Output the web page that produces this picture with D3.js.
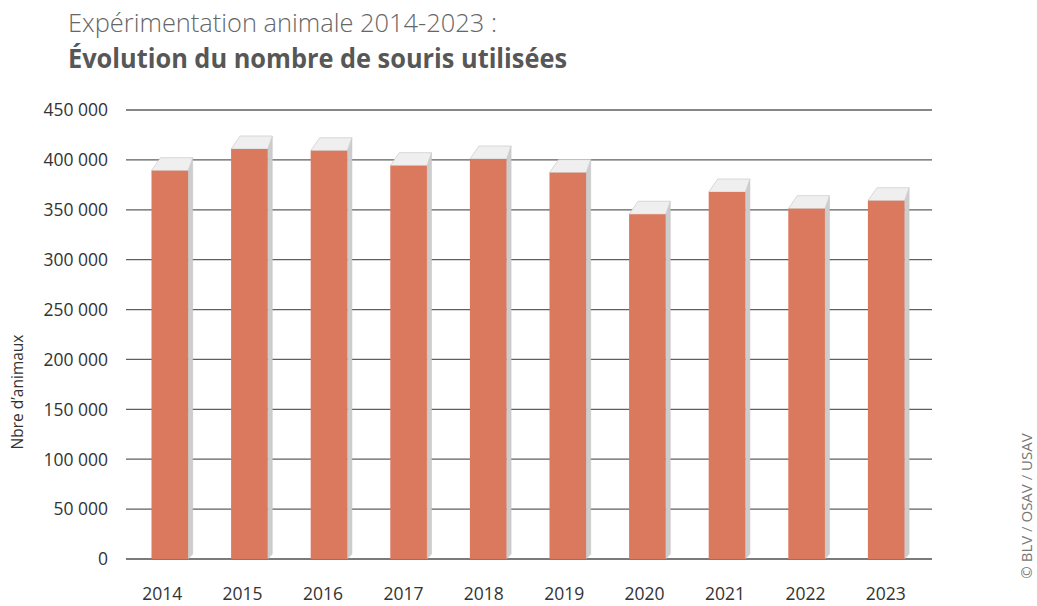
<!DOCTYPE html>
<html><head><meta charset="utf-8">
<script src="https://cdn.jsdelivr.net/npm/d3@7"></script>
<style>
html,body{margin:0;padding:0;background:#fff;}
svg{display:block;font-family:"Open Sans","Noto Sans",sans-serif;}
</style></head>
<body>
<svg id="c" width="1037" height="606"></svg>
<script>
const years = ["2014","2015","2016","2017","2018","2019","2020","2021","2022","2023"];
const mice = [389200, 410900, 409200, 394200, 400900, 387200, 345500, 367800, 351100, 359100];
const yTicks = [0, 50000, 100000, 150000, 200000, 250000, 300000, 350000, 400000, 450000];
const titleLine1 = "Expérimentation animale 2014-2023 :";
const titleLine2 = "Évolution du nombre de souris utilisées";
const yTitle = "Nbre d’animaux";
const credit = "© BLV / OSAV / USAV";

const svg = d3.select("#c");
const y = d3.scaleLinear().domain([0, 450000]).range([559, 110]);
const xLab = d3.scaleBand().domain(years).range([122, 926]).padding(0);
const xBar = d3.scaleBand().domain(years).range([130, 926]).paddingInner(0.54).paddingOuter(0.27);
const gx0 = 126, gx1 = 932;
const fmt = v => d3.format(",")(v).replace(/,/g, " ");

// titles
svg.append("text").attr("x", 68).attr("y", 32).attr("fill", "#666")
  .attr("font-size", 25).attr("font-weight", 300)
  .attr("textLength", 429).attr("lengthAdjust", "spacingAndGlyphs").text(titleLine1);
svg.append("text").attr("x", 68).attr("y", 68).attr("fill", "#575757")
  .attr("font-size", 26).attr("font-weight", 700)
  .attr("textLength", 499).attr("lengthAdjust", "spacingAndGlyphs").text(titleLine2);

// gridlines
svg.append("g").selectAll("line").data(yTicks).join("line")
  .attr("x1", gx0).attr("x2", gx1)
  .attr("y1", d => y(d)).attr("y2", d => y(d))
  .attr("stroke", d => d === 0 ? "#7a7a7a" : "#5f5f5f")
  .attr("stroke-width", d => d === 0 ? 2 : 1.3);

// y tick labels
svg.append("g").selectAll("text").data(yTicks).join("text")
  .attr("x", 108).attr("y", d => y(d)).attr("dy", "0.36em")
  .attr("text-anchor", "end").attr("font-size", 17.5).attr("fill", "#333")
  .text(d => d === 0 ? "0" : fmt(d));

// y title
svg.append("text").attr("transform", "translate(23,392) rotate(-90)")
  .attr("text-anchor", "middle").attr("font-size", 15.5).attr("fill", "#333").text(yTitle);

// credit
svg.append("text").attr("transform", "translate(1032,506) rotate(-90)")
  .attr("text-anchor", "middle").attr("font-size", 15).attr("fill", "#777").text(credit);

// bars (3D look)
const dxR = 4.6, dxL = 9, dyT = 13, dyB = 5;
const bars = svg.append("g").selectAll("g").data(years.map((yr, i) => ({yr, v: mice[i]}))).join("g");
bars.append("polygon").attr("fill", "#cdcdcd").attr("stroke", "#c2c2c2").attr("stroke-width", 0.5)
  .attr("points", d => {
    const x1 = xBar(d.yr) + xBar.bandwidth(), t = y(d.v), b = y(0);
    return [[x1, t], [x1 + dxR, t - dyT], [x1 + dxR, b - dyB], [x1, b]].join(" ");
  });
bars.append("polygon").attr("fill", "#efefef").attr("stroke", "#cfcfcf").attr("stroke-width", 0.8)
  .attr("points", d => {
    const x0 = xBar(d.yr), x1 = x0 + xBar.bandwidth(), t = y(d.v);
    return [[x0, t], [x1, t], [x1 + dxR, t - dyT], [x0 + dxL, t - dyT]].join(" ");
  });
bars.append("rect").attr("fill", "#da795d")
  .attr("x", d => xBar(d.yr)).attr("width", xBar.bandwidth())
  .attr("y", d => y(d.v)).attr("height", d => y(0) - y(d.v));

// x labels
svg.append("g").selectAll("text").data(years).join("text")
  .attr("x", d => xLab(d) + xLab.bandwidth() / 2).attr("y", 600)
  .attr("text-anchor", "middle").attr("font-size", 17.5).attr("fill", "#333").text(d => d);
</script>
</body></html>
